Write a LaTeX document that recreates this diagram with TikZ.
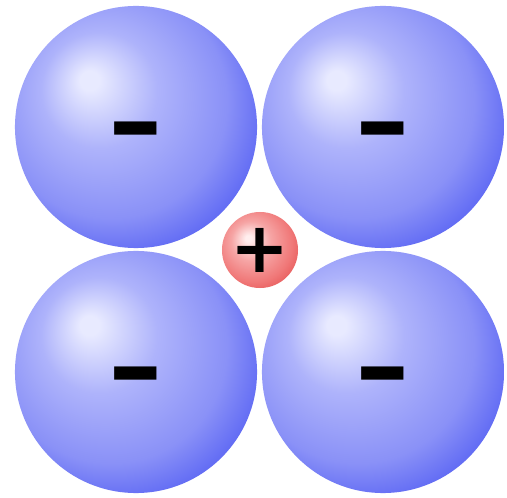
\documentclass[tikz,border=0pt]{standalone}
\usepackage{fontspec}
\newfontfamily\signfont{DejaVu Sans}
\usetikzlibrary{positioning}

% sphere colours
\definecolor{anionhi}{RGB}{232,234,255}
\definecolor{anionmid}{RGB}{174,179,251}
\definecolor{anionlow}{RGB}{138,145,247}
\definecolor{anionedge}{RGB}{70,82,242}
\definecolor{cationhi}{RGB}{255,238,238}
\definecolor{cationmid}{RGB}{246,165,165}
\definecolor{cationlow}{RGB}{240,120,120}
\definecolor{cationedge}{RGB}{228,80,80}

\pgfdeclareradialshading{anionball}{\pgfpoint{-10bp}{10bp}}{%
color(0bp)=(anionhi); color(2bp)=(anionhi); color(12bp)=(anionmid);
color(24bp)=(anionlow); color(35bp)=(anionedge); color(50bp)=(anionedge)}
\pgfdeclareradialshading{cationball}{\pgfpoint{-8bp}{8bp}}{%
color(0bp)=(cationhi); color(2bp)=(cationhi); color(13bp)=(cationmid);
color(25bp)=(cationlow); color(34bp)=(cationedge); color(50bp)=(cationedge)}

\tikzset{
  anion/.style={circle, inner sep=0pt, minimum size=6.05cm, shading=anionball,
    text height=0pt, text depth=0pt,
    font=\signfont\bfseries\fontsize{48}{48}\selectfont},
  cation/.style={circle, inner sep=0pt, minimum size=1.9cm, shading=cationball,
    font=\signfont\bfseries\fontsize{50}{50}\selectfont}
}
\newcommand{\minussign}{\raisebox{-0.94cm}{\scalebox{1}[1.7]{−}}}

\begin{document}
\begin{tikzpicture}[x=0.025cm, y=-0.025cm]

\useasboundingbox (0,0) rectangle (507,498);
\fill[white] (0,0) rectangle (507,498);

% ================= ANIONS =================
\node[anion] (tl) at (136,127) {\minussign};
\node[anion] (tr) at (383,127) {\minussign};
\node[anion] (bl) at (136,372) {\minussign};
\node[anion] (br) at (383,372) {\minussign};

% ================= CATION =================
\node[cation] (ctr) at (260,250) {+};

\end{tikzpicture}
\end{document}
